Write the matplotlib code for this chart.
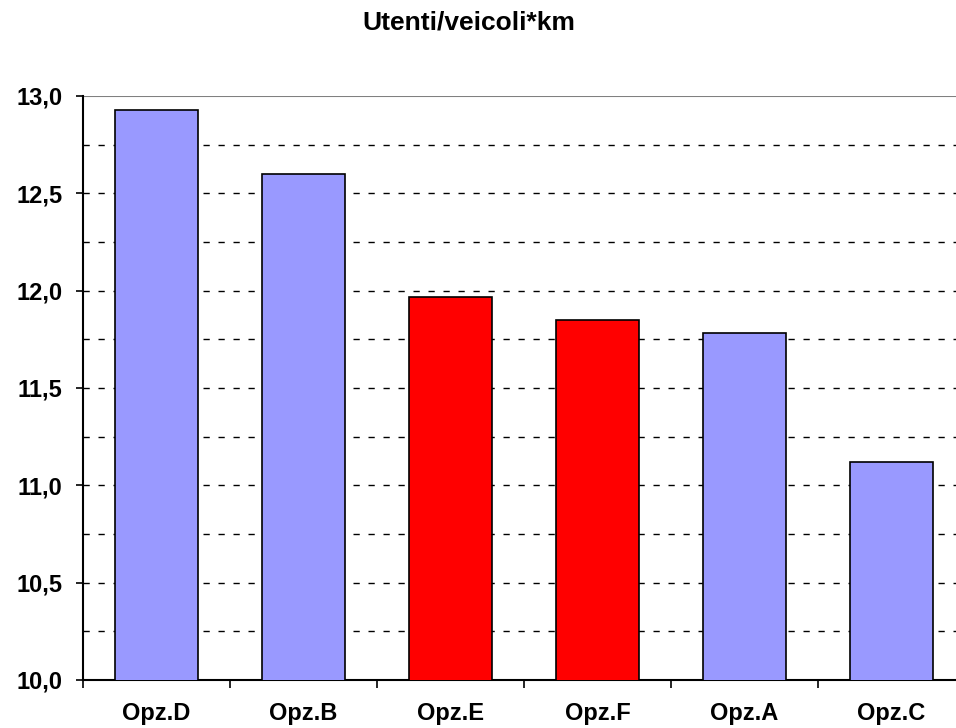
import matplotlib.pyplot as plt
import numpy as np

categories = ["Opz.D", "Opz.B", "Opz.E", "Opz.F", "Opz.A", "Opz.C"]
values = [12.93, 12.60, 11.965, 11.85, 11.785, 11.12]
colors = ["#9999FF", "#9999FF", "#FF0000", "#FF0000", "#9999FF", "#9999FF"]

plt.rcParams["font.family"] = ["Liberation Sans", "DejaVu Sans"]
plt.rcParams["font.weight"] = "bold"

fig = plt.figure(figsize=(9.56, 7.28), dpi=100)
ax = fig.add_axes([83 / 956, 1 - 680 / 728, 882 / 956, 584 / 728])

x = np.arange(len(categories))
ax.bar(x, values, width=0.57, color=colors, edgecolor="black", linewidth=1.2, zorder=3)

ax.set_xlim(-0.5, len(categories) - 0.5)
ax.set_ylim(10.0, 13.0)

# dashed gridlines every 0.25, solid grey on top
for yv in np.arange(10.25, 13.0, 0.25):
    ax.axhline(yv, color="black", linestyle=(0, (4.5, 6.3)), linewidth=1.0, zorder=1)
ax.axhline(13.0, color="#808080", linewidth=1.5, zorder=1)

yt = np.arange(10.0, 13.01, 0.5)
ax.set_yticks(yt)
ax.set_yticklabels([f"{v:.1f}".replace(".", ",") for v in yt], fontsize=17, fontweight="bold")
ax.tick_params(axis="y", direction="out", length=5, width=1.2, pad=10)

ax.set_xticks(np.arange(-0.5, len(categories), 1.0))
ax.set_xticklabels([])
ax.set_xticks(x, minor=True)
ax.set_xticklabels(categories, minor=True, fontsize=17, fontweight="bold")
ax.tick_params(axis="x", which="major", direction="out", length=6, width=1.2)
ax.tick_params(axis="x", which="minor", length=0, pad=16)

for s in ["top", "right"]:
    ax.spines[s].set_visible(False)
ax.spines["left"].set_linewidth(1.5)
ax.spines["bottom"].set_linewidth(1.5)

fig.text(469 / 956, 1 - 23 / 728, "Utenti/veicoli*km", ha="center", va="center",
         fontsize=19, fontweight="bold")

fig.savefig("out.png", dpi=100)
